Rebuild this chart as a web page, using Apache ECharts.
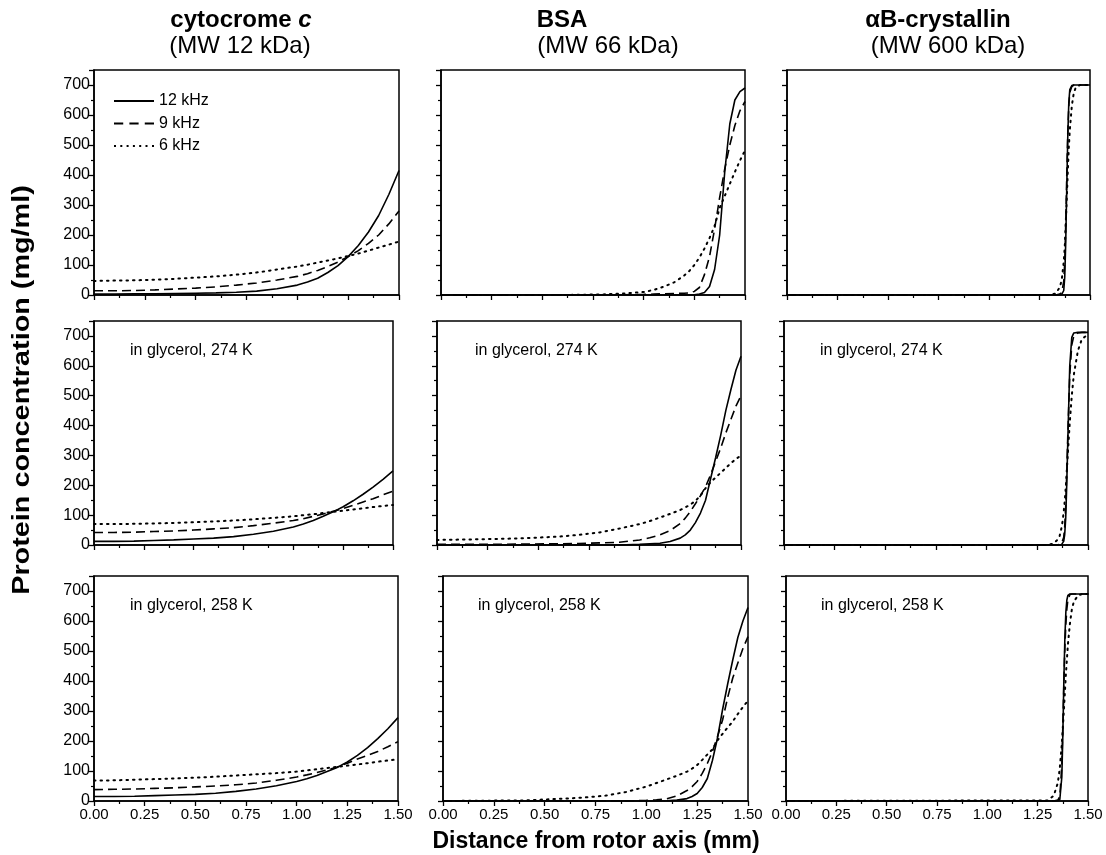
<!DOCTYPE html>
<html>
<head>
<meta charset="utf-8">
<script src="https://cdn.jsdelivr.net/npm/echarts@6/dist/echarts.min.js"></script>
<style>
  html, body { margin: 0; padding: 0; background: #fff; }
  #chart { width: 1106px; height: 855px; }
</style>
</head>
<body>
<div id="chart"></div>
<script>
// x positions (mm) for each protein
const xCyto = [0, 0.1, 0.2, 0.3, 0.4, 0.5, 0.6, 0.7, 0.8, 0.9, 1.0, 1.05, 1.1, 1.15, 1.2, 1.25, 1.3, 1.35, 1.4, 1.45, 1.5];
const xBsa = [0, 0.2, 0.4, 0.6, 0.7, 0.8, 0.9, 1.0, 1.05, 1.1, 1.15, 1.2, 1.225, 1.25, 1.275, 1.3, 1.325, 1.35, 1.375, 1.4, 1.425, 1.45, 1.475, 1.5];
const xCry = [0, 1.3, 1.33, 1.35, 1.36, 1.37, 1.375, 1.38, 1.385, 1.39, 1.395, 1.40, 1.41, 1.42, 1.43, 1.45, 1.47, 1.5];

// cytocrome c
const cyto12 = [3, 3, 4, 4, 5, 6, 7, 9, 13, 21, 33, 43, 56, 75, 98, 128, 165, 210, 265, 335, 415];
const cyto9 = [14, 14, 15, 17, 20, 23, 27, 33, 40, 50, 62, 71, 82, 95, 110, 128, 148, 172, 200, 237, 280];
const cyto6 = [47, 48, 49, 51, 54, 58, 62, 68, 75, 85, 95, 101, 108, 115, 122, 130, 138, 148, 158, 168, 178];
const cyto12g274 = [12, 12, 13, 15, 17, 20, 23, 28, 36, 46, 60, 70, 82, 96, 111, 128, 148, 170, 194, 220, 248];
const cyto9g274 = [42, 42, 43, 45, 47, 50, 54, 58, 65, 73, 82, 88, 96, 104, 113, 122, 133, 144, 155, 168, 180];
const cyto6g274 = [70, 70, 71, 72, 74, 76, 79, 82, 86, 91, 96, 100, 103, 107, 111, 115, 119, 123, 127, 131, 134];
const cyto12g258 = [15, 15, 16, 18, 20, 22, 26, 32, 40, 51, 65, 74, 85, 98, 112, 130, 152, 178, 208, 241, 278];
const cyto9g258 = [38, 39, 40, 42, 44, 47, 50, 54, 60, 69, 80, 87, 95, 104, 113, 126, 140, 152, 165, 181, 198];
const cyto6g258 = [68, 69, 71, 73, 75, 78, 81, 85, 89, 93, 98, 102, 106, 110, 114, 118, 122, 126, 131, 135, 139];

// BSA
const bsa12 = [0, 0, 0, 0, 0, 0, 0, 0, 0, 0, 0, 0, 0, 1, 3, 8, 28, 85, 200, 410, 570, 650, 678, 690];
const bsa9 = [0, 0, 0, 0, 0, 1, 1, 2, 3, 4, 5, 6, 7, 12, 25, 68, 128, 220, 325, 420, 500, 565, 614, 645];
const bsa6 = [0, 0, 0, 0, 1, 2, 5, 10, 17, 28, 42, 65, 80, 100, 125, 155, 190, 230, 290, 330, 370, 410, 448, 482];
const bsa12g274 = [0, 0, 0, 0, 0, 0, 0, 2, 4, 6, 12, 23, 34, 50, 75, 107, 150, 222, 293, 368, 450, 520, 585, 632];
const bsa9g274 = [2, 2, 3, 4, 5, 7, 9, 17, 24, 34, 48, 72, 90, 112, 138, 165, 195, 235, 280, 325, 375, 420, 465, 500];
const bsa6g274 = [17, 19, 22, 28, 34, 42, 55, 70, 80, 92, 104, 117, 126, 135, 148, 165, 190, 210, 226, 242, 258, 274, 288, 300];
const bsa12g258 = [0, 0, 0, 0, 0, 0, 0, 0, 0, 1, 3, 8, 15, 25, 45, 75, 135, 210, 305, 390, 470, 545, 600, 645];
const bsa9g258 = [0, 0, 0, 0, 0, 0, 0, 2, 4, 7, 17, 35, 48, 65, 92, 125, 165, 215, 270, 345, 410, 460, 508, 548];
const bsa6g258 = [0, 1, 2, 8, 12, 18, 30, 48, 60, 72, 84, 98, 108, 120, 137, 155, 172, 202, 224, 245, 265, 290, 313, 335];

// alphaB-crystallin
const cry12 = [0, 0, 0, 0, 2, 15, 60, 180, 360, 530, 640, 685, 698, 700, 700, 700, 700, 700];
const cry9 = [0, 0, 0, 3, 8, 45, 110, 240, 400, 540, 630, 675, 695, 700, 700, 700, 700, 700];
const cry6 = [0, 0, 5, 25, 50, 110, 160, 240, 320, 410, 490, 550, 630, 675, 692, 700, 700, 700];
const cry12g274 = [0, 0, 0, 0, 0, 2, 5, 12, 35, 90, 200, 340, 600, 695, 710, 712, 712, 712];
const cry9g274 = [0, 0, 0, 1, 2, 6, 12, 25, 60, 130, 240, 360, 570, 670, 700, 710, 712, 712];
const cry6g274 = [0, 0, 5, 18, 30, 60, 82, 110, 145, 190, 245, 300, 410, 500, 570, 650, 690, 705];
const cry12g258 = [0, 0, 0, 1, 5, 80, 220, 400, 540, 630, 670, 685, 690, 690, 690, 690, 690, 690];
const cry9g258 = [0, 0, 0, 3, 15, 120, 250, 390, 510, 590, 640, 670, 688, 690, 690, 690, 690, 690];
const cry6g258 = [0, 2, 18, 60, 110, 190, 245, 300, 360, 420, 470, 520, 590, 640, 665, 685, 690, 690];

const speeds = ['12 kHz', '9 kHz', '6 kHz'];

// panels row by row: [left, top, width, height]
const boxes = [
  [94, 70, 305, 225], [441, 70, 304, 225], [787, 70, 303, 225],
  [94, 321, 299, 224], [437, 321, 304, 224], [784, 321, 304, 224],
  [94, 576, 304, 225], [443, 576, 305, 225], [786, 576, 302, 225]
];
const panels = [
  [xCyto, cyto12, cyto9, cyto6], [xBsa, bsa12, bsa9, bsa6], [xCry, cry12, cry9, cry6],
  [xCyto, cyto12g274, cyto9g274, cyto6g274], [xBsa, bsa12g274, bsa9g274, bsa6g274], [xCry, cry12g274, cry9g274, cry6g274],
  [xCyto, cyto12g258, cyto9g258, cyto6g258], [xBsa, bsa12g258, bsa9g258, bsa6g258], [xCry, cry12g258, cry9g258, cry6g258]
];

const FONT = '"Liberation Sans", Arial, Helvetica, sans-serif';
const lineTypes = ['solid', [9, 5], [1.5, 5]];
const lineWidths = [1.6, 1.6, 2];
// legend glyphs: solid, dashed and dotted strokes
const legendIcons = [
  'path://M0,0h40v2h-40z',
  'path://M0,0h9v2h-9zM15,0h9v2h-9zM30,0h9v2h-9z',
  'path://M0,0h2v2h-2zM6.3,0h2v2h-2zM12.6,0h2v2h-2zM18.9,0h2v2h-2zM25.2,0h2v2h-2zM31.5,0h2v2h-2zM38,0h2v2h-2z'
];

const grid = [], xAxis = [], yAxis = [], series = [];
boxes.forEach((b, i) => {
  const row = Math.floor(i / 3), col = i % 3;
  grid.push({
    left: b[0], top: b[1], width: b[2], height: b[3],
    show: true, borderColor: '#000', borderWidth: 1.5, backgroundColor: 'transparent'
  });
  xAxis.push({
    type: 'value', gridIndex: i, min: 0, max: 1.5, interval: 0.25,
    axisLine: { lineStyle: { color: '#000', width: 1.5 } },
    axisTick: { length: 5, lineStyle: { color: '#000', width: 1.3 } },
    minorTick: { show: true, splitNumber: 2, length: 3, lineStyle: { color: '#000', width: 1.2 } },
    splitLine: { show: false },
    axisLabel: {
      show: row === 2, color: '#000', fontFamily: FONT, fontSize: 15, margin: 6,
      formatter: v => v.toFixed(2)
    }
  });
  yAxis.push({
    type: 'value', gridIndex: i, min: 0, max: 750, interval: 100,
    axisLine: { show: true, lineStyle: { color: '#000', width: 1.5 } },
    axisTick: { show: true, length: 5, lineStyle: { color: '#000', width: 1.3 } },
    minorTick: { show: true, splitNumber: 2, length: 3, lineStyle: { color: '#000', width: 1.2 } },
    splitLine: { show: false },
    axisLabel: {
      show: col === 0, showMaxLabel: false, color: '#000', fontFamily: FONT, fontSize: 16, margin: 4
    }
  });
  const p = panels[i];
  for (let s = 0; s < 3; s++) {
    series.push({
      name: speeds[s], type: 'line', xAxisIndex: i, yAxisIndex: i,
      data: p[0].map((x, k) => [x, p[s + 1][k]]),
      showSymbol: false, symbol: 'none', smooth: false,
      itemStyle: { color: '#000' },
      lineStyle: { color: '#000', width: lineWidths[s], type: lineTypes[s], cap: s === 2 ? 'round' : 'butt' },
      silent: true, z: 3
    });
  }
});

const titleStyle = { fontFamily: FONT, fill: '#000', align: 'center', verticalAlign: 'middle' };
const graphic = [
  { type: 'text', x: 241, y: 20, style: Object.assign({}, titleStyle, {
      text: '{b|cytocrome }{bi|c}',
      rich: {
        b: { fontSize: 24, fontWeight: 'bold', fontFamily: FONT },
        bi: { fontSize: 24, fontWeight: 'bold', fontStyle: 'italic', fontFamily: FONT }
      }
    }) },
  { type: 'text', x: 240, y: 46, style: Object.assign({}, titleStyle, { text: '(MW 12 kDa)', fontSize: 24 }) },
  { type: 'text', x: 562, y: 20, style: Object.assign({}, titleStyle, { text: 'BSA', fontSize: 24, fontWeight: 'bold' }) },
  { type: 'text', x: 608, y: 46, style: Object.assign({}, titleStyle, { text: '(MW 66 kDa)', fontSize: 24 }) },
  { type: 'text', x: 938, y: 20, style: Object.assign({}, titleStyle, { text: 'αB-crystallin', fontSize: 24, fontWeight: 'bold' }) },
  { type: 'text', x: 948, y: 46, style: Object.assign({}, titleStyle, { text: '(MW 600 kDa)', fontSize: 24 }) },
  { type: 'text', x: 596, y: 842, style: Object.assign({}, titleStyle, { text: 'Distance from rotor axis (mm)', fontSize: 23, fontWeight: 'bold' }) },
  { type: 'text', x: 22, y: 390, rotation: Math.PI / 2, scaleX: 1.2, style: Object.assign({}, titleStyle, { text: 'Protein concentration (mg/ml)', fontSize: 24, fontWeight: 'bold' }) }
];
const notes = [[130, 351, '274'], [475, 351, '274'], [820, 351, '274'], [130, 606, '258'], [478, 606, '258'], [821, 606, '258']];
notes.forEach(n => {
  graphic.push({ type: 'text', x: n[0], y: n[1], style: {
    text: 'in glycerol, ' + n[2] + ' K', fontFamily: FONT, fontSize: 16, fill: '#000', verticalAlign: 'middle'
  } });
});

const chart = echarts.init(document.getElementById('chart'), null, { renderer: 'canvas' });
chart.setOption({
  animation: false,
  backgroundColor: '#fff',
  legend: {
    data: speeds.map((name, k) => ({ name: name, icon: legendIcons[k] })),
    orient: 'vertical', left: 109, top: 88,
    itemWidth: 40, itemHeight: 14, itemGap: 6.5, symbolKeepAspect: true,
    itemStyle: { color: '#000', borderWidth: 0 },
    textStyle: { color: '#000', fontFamily: FONT, fontSize: 16 },
    selectedMode: false
  },
  grid: grid,
  xAxis: xAxis,
  yAxis: yAxis,
  series: series,
  graphic: graphic
});
</script>
</body>
</html>
